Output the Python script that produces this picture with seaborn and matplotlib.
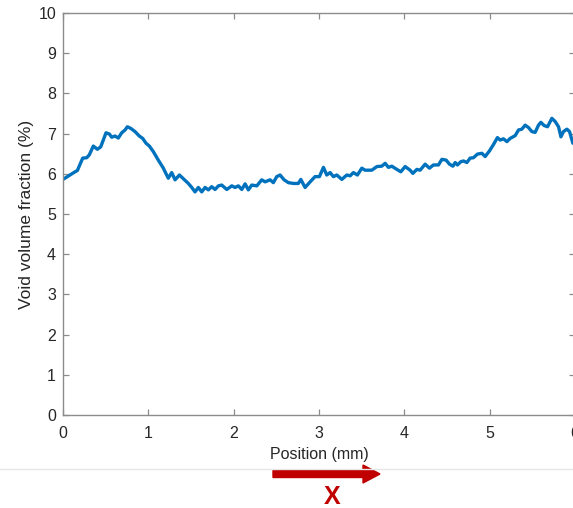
import matplotlib
matplotlib.use("Agg")
import matplotlib.pyplot as plt
import seaborn as sns
import pandas as pd
from matplotlib.patches import FancyArrow
from matplotlib.lines import Line2D

position_mm = [0.0, 0.141, 0.168, 0.231, 0.278, 0.308, 0.355, 0.402, 0.442, 0.504,
               0.543, 0.571, 0.610, 0.648, 0.688, 0.727, 0.754, 0.794, 0.844, 0.894,
               0.934, 0.973, 1.012, 1.059, 1.117, 1.176, 1.196, 1.234, 1.274, 1.313,
               1.364, 1.419, 1.469, 1.509, 1.547, 1.586, 1.626, 1.665, 1.703, 1.743,
               1.782, 1.821, 1.860, 1.919, 1.978, 2.016, 2.055, 2.095, 2.134, 2.172,
               2.212, 2.271, 2.329, 2.368, 2.427, 2.465, 2.505, 2.544, 2.591, 2.641,
               2.700, 2.758, 2.787, 2.837, 2.896, 2.954, 3.005, 3.052, 3.091, 3.130,
               3.169, 3.209, 3.267, 3.326, 3.365, 3.403, 3.450, 3.502, 3.540, 3.619,
               3.678, 3.736, 3.775, 3.814, 3.853, 3.912, 3.959, 4.009, 4.068, 4.100,
               4.147, 4.185, 4.244, 4.294, 4.341, 4.400, 4.440, 4.490, 4.529, 4.569,
               4.596, 4.622, 4.662, 4.693, 4.733, 4.771, 4.810, 4.857, 4.909, 4.947,
               4.998, 5.045, 5.091, 5.123, 5.162, 5.202, 5.240, 5.299, 5.338, 5.377,
               5.416, 5.455, 5.495, 5.533, 5.572, 5.600, 5.639, 5.678, 5.729, 5.768,
               5.807, 5.835, 5.865, 5.905, 5.936, 5.975]
void_fraction = [5.86, 6.05, 6.08, 6.39, 6.40, 6.47, 6.69, 6.61, 6.67, 7.02,
                 6.99, 6.91, 6.94, 6.89, 7.02, 7.09, 7.17, 7.13, 7.05, 6.94,
                 6.88, 6.76, 6.69, 6.55, 6.34, 6.14, 6.05, 5.89, 6.03, 5.85,
                 5.97, 5.86, 5.76, 5.66, 5.55, 5.66, 5.55, 5.66, 5.60, 5.68,
                 5.61, 5.70, 5.72, 5.61, 5.70, 5.66, 5.70, 5.61, 5.75, 5.60,
                 5.72, 5.70, 5.85, 5.80, 5.85, 5.78, 5.93, 5.97, 5.85, 5.78,
                 5.76, 5.76, 5.86, 5.66, 5.80, 5.93, 5.93, 6.16, 5.97, 6.03,
                 5.93, 5.97, 5.86, 5.97, 5.95, 6.03, 5.97, 6.14, 6.09, 6.09,
                 6.18, 6.19, 6.26, 6.16, 6.19, 6.11, 6.05, 6.18, 6.09, 6.01,
                 6.11, 6.09, 6.24, 6.14, 6.22, 6.22, 6.36, 6.34, 6.24, 6.19,
                 6.28, 6.22, 6.30, 6.32, 6.28, 6.39, 6.40, 6.49, 6.51, 6.43,
                 6.57, 6.73, 6.90, 6.84, 6.87, 6.80, 6.88, 6.95, 7.09, 7.11,
                 7.21, 7.15, 7.05, 7.03, 7.21, 7.28, 7.20, 7.17, 7.38, 7.30,
                 7.17, 6.92, 7.05, 7.11, 7.05, 6.76]
x_ticks = [0, 1, 2, 3, 4, 5, 6]
y_ticks = [0, 1, 2, 3, 4, 5, 6, 7, 8, 9, 10]
x_label = "Position (mm)"
y_label = "Void volume fraction (%)"
arrow_label = "X"

sns.set_theme(style="ticks")
plt.rcParams['font.family'] = ['Liberation Sans', 'DejaVu Sans']

W, H = 573, 508
fig = plt.figure(figsize=(W / 100, H / 100), dpi=100)
fig.patch.set_facecolor("white")
ax = fig.add_axes([63 / W, 1 - 415 / H, (575 - 63) / W, (415 - 13) / H])

df = pd.DataFrame({"pos": position_mm, "void": void_fraction})
sns.lineplot(data=df, x="pos", y="void", ax=ax, color="#0072BD", linewidth=2.4)

ax.set_xlim(0, 6)
ax.set_ylim(0, 10)
ax.set_xticks(x_ticks)
ax.set_yticks(y_ticks)
ax.set_xlabel(x_label, fontsize=11.5, color="#262626", labelpad=4)
ax.set_ylabel(y_label, fontsize=12.5, color="#262626", labelpad=3)

spine_color = "#8c8c8c"
for s in ax.spines.values():
    s.set_visible(True)
    s.set_color(spine_color)
    s.set_linewidth(1.0)
ax.tick_params(axis="both", which="both", direction="in", length=4, width=0.9,
               color=spine_color, labelcolor="#262626", labelsize=11.5,
               top=True, right=True, pad=5)
ax.tick_params(axis="x", pad=8)
ax.set_facecolor("white")

# separator line
fig.add_artist(Line2D([0, 1], [1 - 469 / H, 1 - 469 / H], color="#e6e6e6",
                      linewidth=1.0, transform=fig.transFigure))

# red arrow
x0, x1, ya = 273 / W, 380 / W, 1 - 474 / H
arr = FancyArrow(x0, ya, x1 - x0, 0, width=7 / H, head_width=18 / H,
                 head_length=17 / W, length_includes_head=True,
                 color="#C00000", transform=fig.transFigure)
fig.add_artist(arr)
fig.text(332 / W, 1 - 497 / H, arrow_label, color="#C00000", fontsize=18,
         fontweight="bold", ha="center", va="center")

fig.savefig("out.png", dpi=100, facecolor="white")
